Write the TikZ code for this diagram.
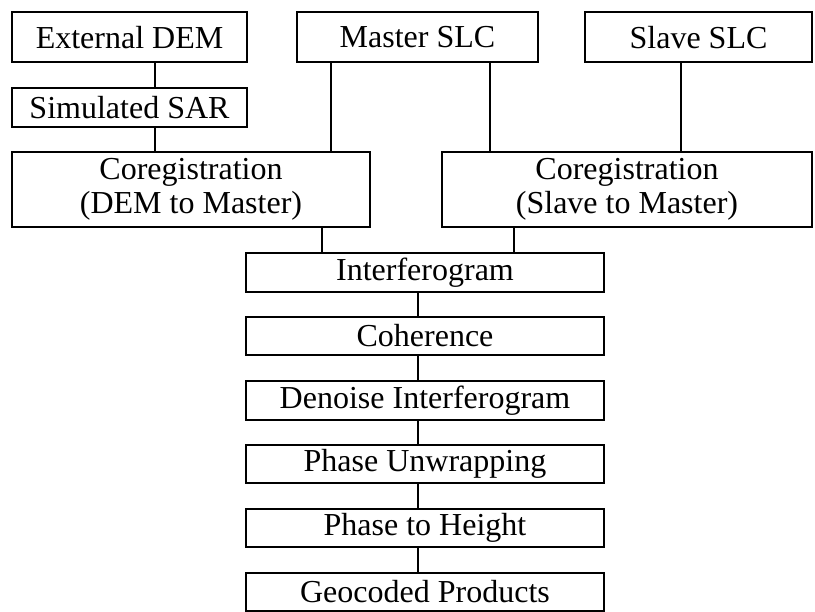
\documentclass[tikz,border=0pt]{standalone}
\usepackage{fontspec}
\setmainfont{Liberation Serif}
\begin{document}
\begin{tikzpicture}[x=1pt,y=-1pt,
  box/.style={draw=black, line width=2pt, inner sep=0pt, align=center,
    font=\fontsize{32}{34}\selectfont},
  link/.style={draw=black, line width=1.8pt}]
\useasboundingbox (0,0) rectangle (815,612);
\node[box, minimum width=235pt, minimum height=50pt] (ext) at (129.5,37.5) {External DEM};
\node[box, minimum width=235pt, minimum height=39pt] (sim) at (129.5,107.5) {Simulated SAR};
\node[box, minimum width=241pt, minimum height=50pt] (master) at (417.5,37.5) {Master SLC};
\node[box, minimum width=227pt, minimum height=50pt] (slave) at (698.5,37.5) {Slave SLC};
\node[box, minimum width=358pt, minimum height=75.5pt] (cdem) at (191,189.75) {Coregistration\\(DEM to Master)};
\node[box, minimum width=370pt, minimum height=75.5pt] (cslave) at (627,189.75) {Coregistration\\(Slave to Master)};
\node[box, minimum width=358pt, minimum height=38.5pt] (ifg) at (425,272.5) {Interferogram};
\node[box, minimum width=358pt, minimum height=38.5pt] (coh) at (425,336) {Coherence};
\node[box, minimum width=358pt, minimum height=38.5pt] (den) at (425,400.5) {Denoise Interferogram};
\node[box, minimum width=358pt, minimum height=38.5pt] (pu) at (425,464) {Phase Unwrapping};
\node[box, minimum width=358pt, minimum height=38.5pt] (pth) at (425,528) {Phase to Height};
\node[box, minimum width=358pt, minimum height=38.5pt] (geo) at (425,592) {Geocoded Products};
\coordinate (xa) at (155,0);
\coordinate (xb) at (330.7,0);
\coordinate (xc) at (490,0);
\coordinate (xd) at (680.7,0);
\coordinate (xe) at (321.7,0);
\coordinate (xf) at (514,0);
\coordinate (xg) at (417.7,0);
\draw[link] (ext.south -| xa) -- (sim.north -| xa);
\draw[link] (sim.south -| xa) -- (cdem.north -| xa);
\draw[link] (master.south -| xb) -- (cdem.north -| xb);
\draw[link] (master.south -| xc) -- (cslave.north -| xc);
\draw[link] (slave.south -| xd) -- (cslave.north -| xd);
\draw[link] (cdem.south -| xe) -- (ifg.north -| xe);
\draw[link] (cslave.south -| xf) -- (ifg.north -| xf);
\draw[link] (ifg.south -| xg) -- (coh.north -| xg);
\draw[link] (coh.south -| xg) -- (den.north -| xg);
\draw[link] (den.south -| xg) -- (pu.north -| xg);
\draw[link] (pu.south -| xg) -- (pth.north -| xg);
\draw[link] (pth.south -| xg) -- (geo.north -| xg);
\end{tikzpicture}
\end{document}
